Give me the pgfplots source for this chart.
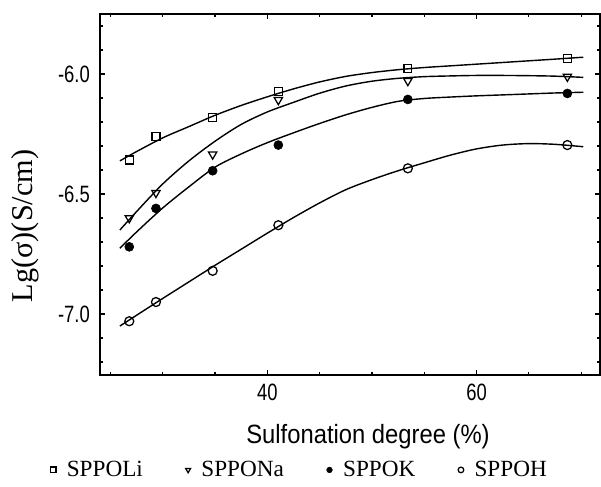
\documentclass[border=0pt]{standalone}
\usepackage{fontspec}
\usepackage{pgfplots}
\pgfplotsset{compat=1.18}
\setmainfont{Liberation Serif}
\newfontfamily\ticksans[FakeStretch=0.78]{Liberation Sans}
\newfontfamily\labelsans[FakeStretch=0.9]{Liberation Sans}

\begin{document}
\begin{tikzpicture}
\begin{axis}[
    name=ax,
    scale only axis,
    width=12.5cm,
    height=9.025cm,
    xmin=24, xmax=71.8,
    ymin=-7.254, ymax=-5.75,
    xtick={40,60},
    xticklabels={40,60},
    minor xtick={25,30,35,45,50,55,65,70},
    ytick={-7,-6.5,-6},
    yticklabels={-7.0,-6.5,-6.0},
    minor ytick={-7.2,-7.1,-6.9,-6.8,-6.7,-6.6,-6.4,-6.3,-6.2,-6.1,-5.9,-5.8},
    tick align=inside,
    major tick length=0.12cm,
    minor tick length=0.08cm,
    tick style={line width=0.8pt, black},
    axis line style={line width=1.2pt},
    xticklabel style={font=\ticksans\fontsize{16.8}{18}\selectfont, yshift=-0.1cm},
    yticklabel style={font=\ticksans\fontsize{16.8}{18}\selectfont, xshift=-0.13cm},
    xlabel={Sulfonation degree (\%)},
    xlabel style={font=\labelsans\fontsize{18.8}{20}\selectfont, at={(axis description cs:0.536,-0.172)}, anchor=center},
    ylabel={Lg(σ)(S/cm)},
    ylabel style={font=\fontsize{21.5}{24}\selectfont, at={(axis description cs:-0.15,0.413)}, anchor=center},
    legend columns=4,
    legend style={draw=none, fill=none, at={(0.40,-0.263)}, anchor=center,
        font=\fontsize{16.5}{18}\selectfont,
        /tikz/every odd column/.append style={column sep=0.2cm},
        /tikz/every even column/.append style={column sep=1.0cm}},
    legend image post style={mark size=2pt},
    clip=false,
]
% fitted curves
\addplot[black, line width=1pt, smooth, forget plot] coordinates {
(25.9,-6.362) (27.5,-6.323) (30,-6.266) (32.5,-6.219) (35,-6.172) (37.5,-6.131)
(40,-6.095) (42.5,-6.062) (45,-6.033) (47.5,-6.010) (50,-5.994) (52.5,-5.982)
(55,-5.973) (57.5,-5.966) (60,-5.959) (62.5,-5.952) (65,-5.945) (67.5,-5.938) (70.2,-5.930)};
\addplot[black, line width=1pt, smooth, forget plot] coordinates {
(25.9,-6.65) (27.5,-6.573) (30,-6.458) (32.5,-6.362) (35,-6.28) (37.5,-6.21)
(40,-6.158) (42.5,-6.118) (45,-6.08) (47.5,-6.05) (50,-6.03) (52.5,-6.018)
(55,-6.011) (57.5,-6.008) (60,-6.006) (62.5,-6.006) (65,-6.007) (67.5,-6.009) (70.2,-6.014)};
\addplot[black, line width=1pt, smooth, forget plot] coordinates {
(25.9,-6.726) (27.5,-6.658) (30,-6.558) (32.5,-6.47) (35,-6.388) (37.5,-6.333)
(40,-6.286) (42.5,-6.245) (45,-6.206) (47.5,-6.17) (50,-6.139) (52.5,-6.114)
(55,-6.102) (57.5,-6.096) (60,-6.091) (62.5,-6.087) (65,-6.083) (67.5,-6.079) (70.2,-6.076)};
\addplot[black, line width=1pt, smooth, forget plot] coordinates {
(25.9,-7.05) (27.5,-7.005) (30,-6.935) (32.5,-6.866) (35,-6.797) (37.5,-6.73)
(40,-6.663) (42.5,-6.598) (45,-6.537) (47.5,-6.482) (50,-6.44) (52.5,-6.403)
(55,-6.37) (57.5,-6.338) (60,-6.312) (62.5,-6.296) (65,-6.29) (67.5,-6.293) (70.2,-6.303)};
% measured points
\addplot[only marks, mark=square, mark size=2.8pt, mark options={line width=0.9pt, fill=white}] coordinates {
(26.8,-6.358) (29.35,-6.261) (34.77,-6.18) (41.05,-6.074) (53.43,-5.976) (68.68,-5.935)};
\addlegendentry{SPPOLi}
\addplot[only marks, mark=triangle, mark size=3.4pt, mark options={rotate=180, line width=0.9pt, fill=white}] coordinates {
(26.8,-6.60) (29.35,-6.495) (34.77,-6.335) (41.05,-6.108) (53.43,-6.029) (68.68,-6.011)};
\addlegendentry{SPPONa}
\addplot[only marks, mark=*, mark size=3.2pt, mark options={fill=black}] coordinates {
(26.8,-6.72) (29.35,-6.56) (34.77,-6.403) (41.05,-6.296) (53.43,-6.106) (68.68,-6.081)};
\addlegendentry{SPPOK}
\addplot[only marks, mark=o, mark size=3.2pt, mark options={line width=0.9pt, fill=white}] coordinates {
(26.8,-7.03) (29.35,-6.95) (34.77,-6.82) (41.05,-6.63) (53.43,-6.393) (68.68,-6.296)};
\addlegendentry{SPPOH}
\end{axis}
\path ([xshift=-2.5cm,yshift=-2.8cm]ax.south west) rectangle ([xshift=0.025cm,yshift=0.35cm]ax.north east);
\end{tikzpicture}
\end{document}
